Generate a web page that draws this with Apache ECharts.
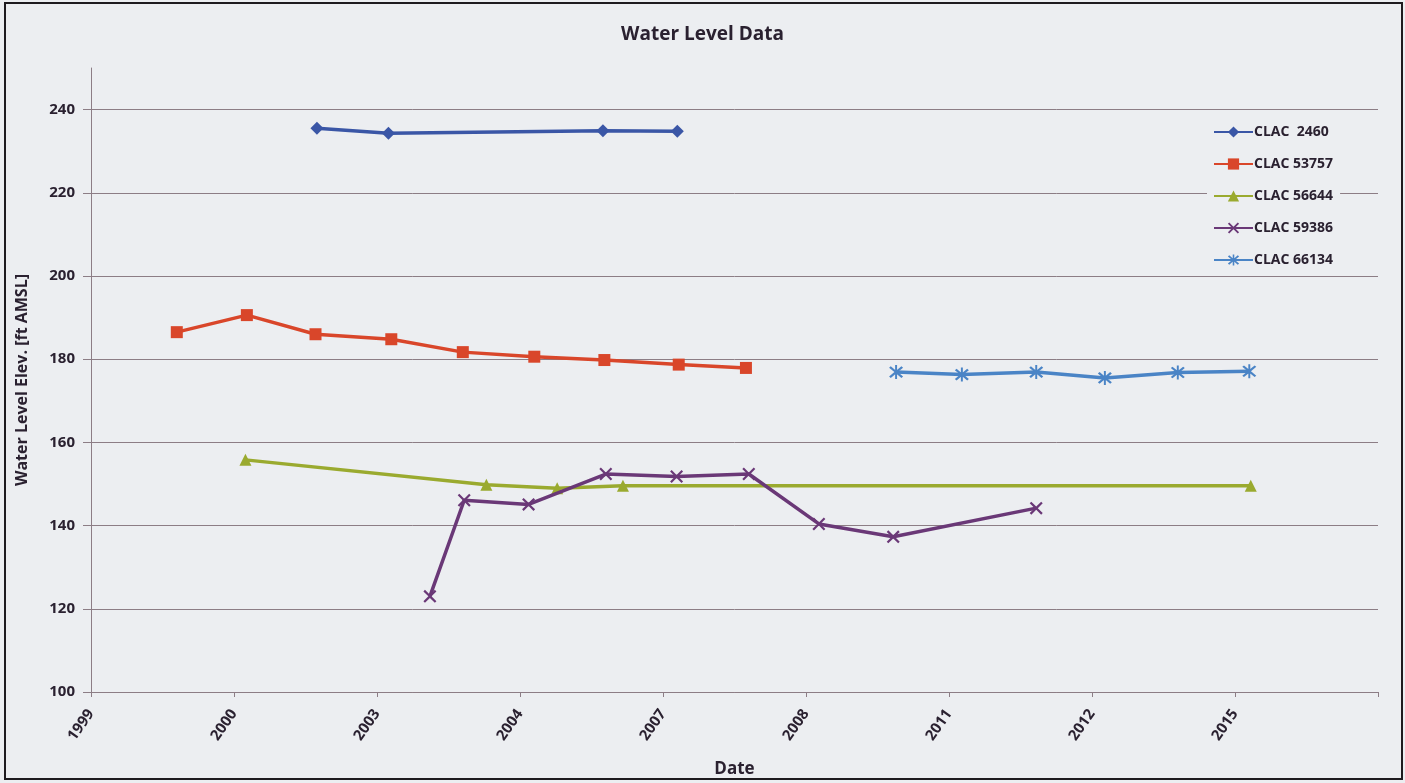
<!DOCTYPE html>
<html><head><meta charset="utf-8">
<script src="https://cdn.jsdelivr.net/npm/echarts@6/dist/echarts.min.js"></script>
<style>
html,body{margin:0;padding:0;background:#eceef1;overflow:hidden;}
#c{position:absolute;left:0;top:0;width:1405px;height:783px;}
#frame{position:absolute;left:4px;top:2px;width:1395px;height:774px;border:2px solid #1e1b1f;pointer-events:none;}
</style></head><body>
<div id="c"></div><div id="frame"></div>
<script>
// x positions are in tick units of the date axis (0 = first tick "1999", 1 = second tick, ...)
const xTickLabels = ['1999', '2000', '2003', '2004', '2007', '2008', '2011', '2012', '2015', ''];
const seriesNames = ['CLAC  2460', 'CLAC 53757', 'CLAC 56644', 'CLAC 59386', 'CLAC 66134'];

const x2460 = [1.58, 2.08, 3.58, 4.10];
const y2460 = [235.5, 234.3, 234.9, 234.8];

const x53757 = [0.60, 1.09, 1.57, 2.10, 2.60, 3.10, 3.59, 4.11, 4.58];
const y53757 = [186.5, 190.6, 186.0, 184.8, 181.7, 180.6, 179.8, 178.7, 177.9];

const x56644 = [1.08, 2.765, 3.26, 3.72, 8.11];
const y56644 = [155.8, 149.8, 149.0, 149.6, 149.6];

const x59386 = [2.37, 2.61, 3.06, 3.60, 4.095, 4.60, 5.09, 5.61, 6.61];
const y59386 = [123.0, 146.1, 145.1, 152.4, 151.8, 152.4, 140.4, 137.3, 144.2];

const x66134 = [5.63, 6.09, 6.61, 7.09, 7.60, 8.10];
const y66134 = [176.9, 176.3, 176.9, 175.5, 176.8, 177.1];

const yTicks = { min: 100, max: 250, step: 20 };

const colors = ['#3a56a6', '#d9462a', '#9aaa2f', '#6a3877', '#4a84c6'];
const xPath = 'path://M0,1.2 L1.2,0 L5,3.8 L8.8,0 L10,1.2 L6.2,5 L10,8.8 L8.8,10 L5,6.2 L1.2,10 L0,8.8 L3.8,5 Z';
const starPath = 'path://M0,1.2 L1.2,0 L5,3.8 L8.8,0 L10,1.2 L6.2,5 L10,8.8 L8.8,10 L5,6.2 L1.2,10 L0,8.8 L3.8,5 Z M4.3,-1 L5.7,-1 L5.7,11 L4.3,11 Z';
const symbols = ['diamond', 'rect', 'triangle', xPath, starPath];
const symbolSizes = [13, 12, 12, 13, 14];

const xs = [x2460, x53757, x56644, x59386, x66134];
const ys = [y2460, y53757, y56644, y59386, y66134];

const FONT = '"Open Sans", Lato, sans-serif';
const TXT = '#2a2130';
const GRID = '#8c7d85';

const chart = echarts.init(document.getElementById('c'), null, { renderer: 'canvas' });
chart.setOption({
  backgroundColor: '#eceef1',
  animation: false,
  title: {
    text: 'Water Level Data', left: 'center', top: 20,
    textStyle: { fontFamily: FONT, fontWeight: 'bold', fontSize: 19, color: TXT }
  },
  legend: {
    orient: 'vertical', left: 1207, top: 121,
    itemWidth: 39, itemHeight: 14, itemGap: 18,
    backgroundColor: '#eceef1', padding: [4, 7, 4, 6],
    textStyle: { fontFamily: FONT, fontWeight: 'bold', fontSize: 14, color: TXT, padding: [0, 0, 0, -4] },
    data: seriesNames
  },
  grid: { left: 91, right: 27, top: 68, bottom: 91, containLabel: false },
  xAxis: {
    type: 'value', min: 0, max: xTickLabels.length - 1, interval: 1,
    name: 'Date', nameLocation: 'middle', nameGap: 69,
    nameTextStyle: { fontFamily: FONT, fontWeight: 'bold', fontSize: 17, color: TXT },
    axisLine: { show: true, lineStyle: { color: GRID, width: 1 } },
    axisTick: { show: true, inside: false, length: 5, lineStyle: { color: GRID } },
    splitLine: { show: false },
    axisLabel: {
      rotate: 55, margin: 19, fontFamily: FONT, fontWeight: 'bold', fontSize: 15, color: TXT,
      formatter: v => xTickLabels[Math.round(v)] || ''
    }
  },
  yAxis: {
    type: 'value', min: yTicks.min, max: yTicks.max, interval: yTicks.step,
    name: 'Water Level Elev. [ft AMSL]', nameLocation: 'middle', nameGap: 61, nameRotate: 90,
    nameTextStyle: { fontFamily: FONT, fontWeight: 'bold', fontSize: 16, color: TXT },
    axisLine: { show: true, lineStyle: { color: GRID, width: 1 } },
    axisTick: { show: true, inside: false, length: 8, lineStyle: { color: GRID } },
    splitLine: { show: true, showMaxLine: false, lineStyle: { color: GRID, width: 1 } },
    axisLabel: {
      margin: 16, fontFamily: FONT, fontWeight: 'bold', fontSize: 15, color: TXT,
      showMaxLabel: false,
      formatter: v => (v >= yTicks.max ? '' : String(v))
    }
  },
  series: seriesNames.map((name, i) => ({
    name, type: 'line',
    data: xs[i].map((x, j) => [x, ys[i][j]]),
    symbol: symbols[i], symbolSize: symbolSizes[i],
    showAllSymbol: true,
    itemStyle: { color: colors[i] },
    lineStyle: { color: colors[i], width: 3.5 },
    z: 2 + i
  }))
});
</script>
</body></html>
